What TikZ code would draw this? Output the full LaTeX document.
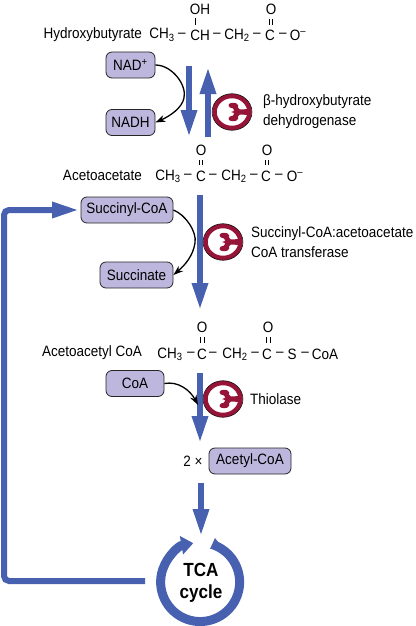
\documentclass[tikz,border=0pt]{standalone}
\usepackage{fontspec}
\setmainfont[FakeStretch=0.9]{Liberation Sans}
\usetikzlibrary{arrows.meta}
\definecolor{flowblue}{RGB}{71,97,176}
\definecolor{boxlilac}{RGB}{190,183,221}
\definecolor{enzymered}{RGB}{150,20,55}
\tikzset{
  chem/.style={inner sep=0pt, font=\fontsize{15}{17}\selectfont},
  cofactor/.style={draw=black!85, line width=0.8pt, rounded corners=6pt, fill=boxlilac, inner sep=0pt, font=\fontsize{15}{17}\selectfont},
  flow/.style={flowblue, line width=6pt, -{Triangle[length=27pt,width=15pt]}},
  curved/.style={black, line width=1.3pt, -{Stealth[length=10pt,width=7pt]}},
  bond/.style={black, line width=0.7pt},
}
\newcommand{\enzymemark}[2]{% centre x, y
  \begin{scope}[shift={(#1,#2)}]
    \path[fill=white, draw=enzymered, line width=4.5pt] (0,0) ellipse (17.5 and 16);
    \draw[black, line width=0.5pt] (0,0) ellipse (20 and 18.3);
    \path[fill=enzymered] (17,-3) -- (8,-2.5) .. controls (6,-3) and (6,-5) .. (6,-7) .. controls (5,-10) and (-3,-10) .. (-3.5,-7)
      .. controls (-3.5,-5) and (-2,-4) .. (1,-3.5) .. controls (3,-2) and (3,-1) .. (-1,0) .. controls (3,1) and (3,2) .. (1,3.5)
      .. controls (-2,4) and (-3.5,5) .. (-3.5,7) .. controls (-3,10) and (5,10) .. (6,7) .. controls (6,5) and (6,3) .. (8,2.5) -- (17,3) -- cycle;
  \end{scope}
}
\begin{document}
\begin{tikzpicture}[x=1pt,y=-1pt]
  \useasboundingbox (0,0) rectangle (415,626);
  % first structure
  \node[chem, anchor=east] (hydroxy) at (142,35) {Hydroxybutyrate};
  \node[chem] (a1) at (162,35) {CH\textsubscript{3}};
  \node[chem] at (182,35) {–};
  \node[chem] (a2) at (200,35) {CH};
  \node[chem] at (217,35) {–};
  \node[chem] (a3) at (237,35) {CH\textsubscript{2}};
  \node[chem] at (257,35) {–};
  \node[chem] (a4) at (270,35) {C};
  \node[chem] at (283,35) {–};
  \node[chem] (a5) at (298,35) {O\textsuperscript{–}};
  \node[chem] (a6) at (200,9) {OH};
  \node[chem] (a7) at (271,9) {O};
  \draw[bond] (195,18) -- (195,25);
  \draw[bond] (269,19) -- (269,25) (272.5,19) -- (272.5,25);
  % second structure
  \node[chem, anchor=east] (aceto) at (142,175) {Acetoacetate};
  \node[chem] (b1) at (168,176) {CH\textsubscript{3}};
  \node[chem] at (188,176) {–};
  \node[chem] (b2) at (201,176) {C};
  \node[chem] at (213,176) {–};
  \node[chem] (b3) at (234,176) {CH\textsubscript{2}};
  \node[chem] at (254,176) {–};
  \node[chem] (b4) at (266,176) {C};
  \node[chem] at (279,176) {–};
  \node[chem] (b5) at (295,176) {O\textsuperscript{–}};
  \node[chem] (b6) at (201,150) {O};
  \node[chem] (b7) at (267,150) {O};
  \draw[bond] (199,160) -- (199,165) (202.5,160) -- (202.5,165);
  \draw[bond] (265,160) -- (265,165) (268.5,160) -- (268.5,165);
  % third structure
  \node[chem, anchor=east] (acetyl) at (142,353) {Acetoacetyl CoA};
  \node[chem] (c1) at (170,354) {CH\textsubscript{3}};
  \node[chem] at (191,354) {–};
  \node[chem] (c2) at (202,354) {C};
  \node[chem] at (213,354) {–};
  \node[chem] (c3) at (235,354) {CH\textsubscript{2}};
  \node[chem] at (255,354) {–};
  \node[chem] (c4) at (267,354) {C};
  \node[chem] at (280,354) {–};
  \node[chem] (c5) at (292,354) {S};
  \node[chem] at (305,354) {–};
  \node[chem] (c6) at (325,354) {CoA};
  \node[chem] (c7) at (202,327) {O};
  \node[chem] (c8) at (268,327) {O};
  \draw[bond] (200.5,337) -- (200.5,343) (204,337) -- (204,343);
  \draw[bond] (266.5,337) -- (266.5,343) (270,337) -- (270,343);
  % cofactors
  \node[cofactor, minimum width=49pt, minimum height=26pt] (nad) at (130.5,65) {NAD\textsuperscript{+}};
  \node[cofactor, minimum width=49pt, minimum height=26pt] (nadh) at (130.5,122.5) {NADH};
  \node[cofactor, minimum width=92pt, minimum height=26pt] (succoa) at (127,210) {Succinyl-CoA};
  \node[cofactor, minimum width=73pt, minimum height=26pt] (succ) at (136.5,275) {Succinate};
  \node[cofactor, minimum width=58pt, minimum height=26pt] (coa) at (135,383.5) {CoA};
  \node[cofactor, minimum width=82pt, minimum height=26pt] (acoa) at (250,461) {Acetyl-CoA};
  \node[chem] (two) at (193,461) {2 ×};
  % enzyme labels
  \node[chem, anchor=west, align=left, font=\fontsize{15}{20}\selectfont] (bhd) at (263,112) {β-hydroxybutyrate\\dehydrogenase};
  \node[chem, anchor=west, align=left, font=\fontsize{15}{20}\selectfont] (sct) at (251,242) {Succinyl-CoA:acetoacetate\\CoA transferase};
  \node[chem, anchor=west] (thio) at (250,399) {Thiolase};
  % cycle label
  \node[align=center, inner sep=0pt, font=\fontsize{19}{22}\bfseries\selectfont] (tca) at (201,583) {TCA\\cycle};
  % reaction arrows
  \coordinate (d1) at (189,66);
  \coordinate (d2) at (189,137);
  \coordinate (u1) at (208,137);
  \coordinate (u2) at (208,67);
  \coordinate (e1) at (200,195);
  \coordinate (e2) at (200,310);
  \coordinate (f1) at (200,373);
  \coordinate (f2) at (200,443);
  \coordinate (g1) at (201,483);
  \coordinate (g2) at (201,536);
  \foreach \a/\b in {d1/d2,u1/u2,e1/e2,f1/f2,g1/g2}
    \draw[flow] (\a) -- (\b);
  % return line
  \coordinate (r1) at (145,581);
  \coordinate (r2) at (4,581);
  \coordinate (r3) at (4,210);
  \coordinate (r4) at (79,210);
  \draw[flow, rounded corners=5pt] (r1) -- (r2) -- (r3) -- (r4);
  % cycle ring
  \draw[flowblue, line width=9pt, -{Triangle[length=12pt,width=18pt]}] (213,544.7) arc[start angle=-71, end angle=260, radius=39.5];
  \path[fill=flowblue] (215,538) -- (222,547) -- (210,549) -- cycle;
  % enzymes
  \enzymemark{232}{112}
  \enzymemark{223}{242}
  \enzymemark{223}{399}
  % cofactor arrows
  \draw[curved] (nad.east) .. controls (172,65) and (187,85) .. (184,98) .. controls (182,108) and (170,116) .. (nadh.east);
  \draw[curved] (succoa.east) .. controls (186,215) and (197,232) .. (195,243) .. controls (193,256) and (185,265) .. (succ.east);
  \draw[curved] (coa.east) .. controls (178,381) and (190,390) .. (198,405);
\end{tikzpicture}
\end{document}
